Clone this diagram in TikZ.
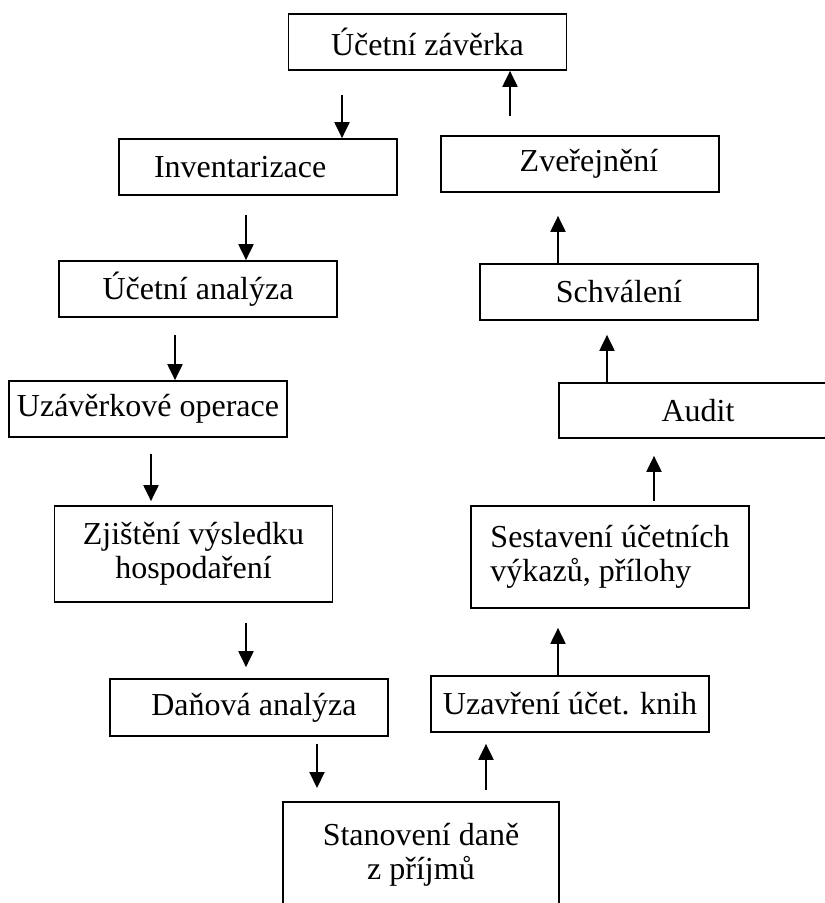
\documentclass[tikz,border=0pt]{standalone}
\usepackage{fontspec}
\setmainfont{Liberation Serif}
\usetikzlibrary{arrows.meta}

\begin{document}
\begin{tikzpicture}
[x=1pt,y=-1pt,-{Triangle[length=16pt,width=15pt]},line width=2pt,
box/.style={draw,rectangle,line width=1.7pt,minimum width=278pt,
minimum height=56pt,inner sep=0pt,font=\fontsize{32}{34}\selectfont}]
\clip (0,0) rectangle (825,903);

\node (uz) at (427.5,42)[box] {Účetní závěrka};
\node (inv) at (258,167)[box,align=left,text width=208pt,inner xsep=35pt] {Inventarizace};
\node (zve) at (580,164)[box] {\hspace*{18pt}Zveřejnění};
\node (ua) at (198,289)[box] {Účetní analýza};
\node (sch) at (619,292)[box] {Schválení};
\node (uzo) at (148,409)[box] {Uzávěrkové operace};
\node (aud) at (698,410.5)[box,minimum height=55pt] {Audit};
\node (zji) at (193.5,554)[box,align=center,minimum height=96pt] {Zjištění výsledku\\hospodaření};
\node (ses) at (610,557)[box,align=left,minimum height=102pt] {Sestavení účetních\\výkazů, přílohy};
\node (dan) at (249,707.5)[box,minimum height=57pt] {\hspace*{10pt}Daňová analýza};
\node (uzk) at (570,704)[box] {Uzavření účet. knih};
\node (sta) at (421,801)[box,anchor=north,align=center,minimum width=276pt,minimum height=106pt] {Stanovení daně\\z příjmů};

\draw[shorten <=24pt] (342,0 |- uz.south) -- (342,0 |- inv.north);
\draw[shorten <=19pt] (246,0 |- inv.south) -- (246,0 |- ua.north);
\draw[shorten <=17pt] (175,0 |- ua.south) -- (175,0 |- uzo.north);
\draw[shorten <=16pt,shorten >=4pt] (151,0 |- uzo.south) -- (151,0 |- zji.north);
\draw[shorten <=20pt,shorten >=11pt] (246,0 |- zji.south) -- (246,0 |- dan.north);
\draw[shorten <=7pt,shorten >=13pt] (317,0 |- dan.south) -- (317,0 |- sta.north);

\draw[shorten <=11pt,shorten >=11pt] (486,0 |- sta.north) -- (486,0 |- uzk.south);
\draw[shorten >=19pt] (558,0 |- uzk.north) -- (558,0 |- ses.south);
\draw[shorten <=4pt,shorten >=17pt] (654,0 |- ses.north) -- (654,0 |- aud.south);
\draw[shorten >=14pt] (607,0 |- aud.north) -- (607,0 |- sch.south);
\draw[shorten >=23pt] (558,0 |- sch.north) -- (558,0 |- zve.south);
\draw[shorten <=19pt] (510,0 |- zve.north) -- (510,0 |- uz.south);

\end{tikzpicture}
\end{document}
